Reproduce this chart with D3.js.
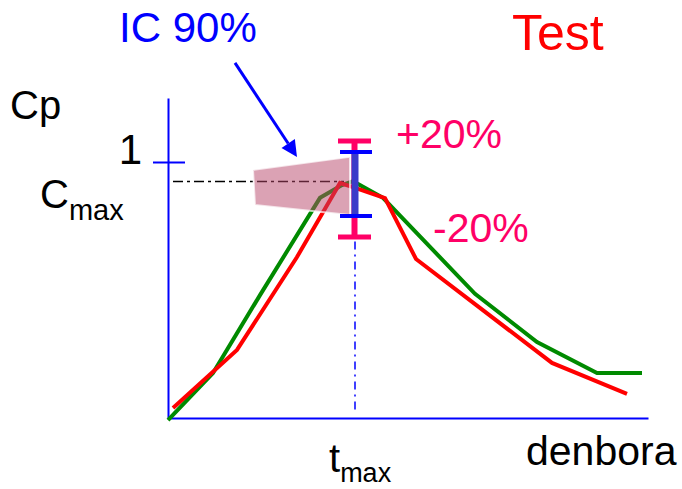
<!DOCTYPE html>
<html>
<head>
<meta charset="utf-8">
<script src="https://cdn.jsdelivr.net/npm/d3@7"></script>
<style>
  html, body { margin: 0; padding: 0; background: #fff; }
  svg { display: block; font-family: "Liberation Sans", Arial, Helvetica, sans-serif; }
</style>
</head>
<body>
<svg id="chart" width="682" height="489"></svg>
<script>
// ---- data ----
const refTime  = [0, 2.25, 4.6, 7.6, 8.7, 9.25, 10.75, 15.35, 18.45, 21.45, 23.7];
const refConc  = [-0.008, 0.176, 0.48, 0.86, 0.91, 0.925, 0.86, 0.485, 0.297, 0.176, 0.176];
const testTime = [0.25, 3.45, 6.45, 8.6, 9.25, 10.85, 12.4, 19.2, 22.95];
const testConc = [0.039, 0.266, 0.629, 0.918, 0.902, 0.859, 0.621, 0.215, 0.094];
const yTicks = [1];
const tMax = 9.35;
const cMax = 0.924;
const ciLow = 0.789, ciHigh = 1.039;      // IC 90%
const limLow = 0.707, limHigh = 1.082;    // -20% / +20%
const ciBandT = [4.25, 9.1];              // shaded IC band (time extent)
const ciBandTop = [0.969, 1.02];
const ciBandBottom = [0.832, 0.793];

const svg = d3.select("#chart");
const x = d3.scaleLinear().domain([0, 24]).range([168, 648]);
const y = d3.scaleLinear().domain([0, 1.25]).range([418, 98]);

const blue = "#0000ff", green = "#008a00", red = "#ff0000", pink = "#ff0066";

// axes
const yAxis = svg.append("g").attr("transform", `translate(${x(0)},0)`)
  .call(d3.axisLeft(y).tickValues(yTicks).tickSizeOuter(0).tickSizeInner(16).tickPadding(10).tickFormat(d3.format("d")));
yAxis.select(".domain").attr("stroke", blue).attr("stroke-width", 2);
yAxis.selectAll(".tick line").attr("stroke", blue).attr("stroke-width", 2).attr("x1", 17).attr("x2", -15);
yAxis.selectAll(".tick text").attr("fill", "#000").attr("font-size", 42)
  .attr("font-family", "Liberation Sans, Arial, sans-serif").attr("dy", "0.03em");

const xAxis = svg.append("g").attr("transform", `translate(0,${y(0)})`)
  .call(d3.axisBottom(x).tickValues([]).tickSizeOuter(0));
xAxis.select(".domain").attr("stroke", blue).attr("stroke-width", 2);

// Cmax / tmax reference lines
svg.append("line")
  .attr("x1", x(0.25)).attr("x2", x(8.8)).attr("y1", y(cMax)).attr("y2", y(cMax))
  .attr("stroke", "#000").attr("stroke-width", 1.5).attr("stroke-dasharray", "10 4 3 4");
svg.append("line")
  .attr("x1", x(tMax)).attr("x2", x(tMax)).attr("y1", y(cMax)).attr("y2", y(0.03))
  .attr("stroke", blue).attr("stroke-width", 1.5).attr("stroke-dasharray", "8 5 2 5");

// curves
const line = d3.line().x(d => x(d[0])).y(d => y(d[1]));
svg.append("path").datum(refTime.map((t, i) => [t, refConc[i]]))
  .attr("d", line).attr("fill", "none").attr("stroke", green).attr("stroke-width", 4);
svg.append("path").datum(testTime.map((t, i) => [t, testConc[i]]))
  .attr("d", line).attr("fill", "none").attr("stroke", red).attr("stroke-width", 4);

// shaded IC band
const band = [
  [ciBandT[0], ciBandTop[0]], [ciBandT[1], ciBandTop[1]],
  [ciBandT[1], ciBandBottom[1]], [ciBandT[0] + 0.1, ciBandBottom[0]]
];
svg.append("polygon")
  .attr("points", band.map(d => [x(d[0]), y(d[1])].join(",")).join(" "))
  .attr("fill", "#b8456a").attr("fill-opacity", 0.5)
  .attr("stroke", "#fff").attr("stroke-opacity", 0.7).attr("stroke-width", 2);

// +/-20% bar
const capW = 16;
svg.append("line").attr("x1", x(tMax) - 0.5).attr("x2", x(tMax) - 0.5)
  .attr("y1", y(limHigh)).attr("y2", y(limLow)).attr("stroke", pink).attr("stroke-width", 6);
[limHigh, limLow].forEach(v => {
  svg.append("line").attr("x1", x(tMax) - capW - 1).attr("x2", x(tMax) + capW)
    .attr("y1", y(v)).attr("y2", y(v)).attr("stroke", pink).attr("stroke-width", 5);
});
// IC 90% bar
svg.append("line").attr("x1", x(tMax)).attr("x2", x(tMax))
  .attr("y1", y(ciHigh)).attr("y2", y(ciLow)).attr("stroke", "#3b3bc9").attr("stroke-width", 7);
[ciHigh, ciLow].forEach(v => {
  svg.append("line").attr("x1", x(tMax) - capW + 1).attr("x2", x(tMax) + capW + 1)
    .attr("y1", y(v)).attr("y2", y(v)).attr("stroke", blue).attr("stroke-width", 4);
});

// arrow
const a0 = [x(3.35), y(1.387)], a1 = [x(6.45), y(1.02)];
const ang = Math.atan2(a1[1] - a0[1], a1[0] - a0[0]);
const hl = 16, hw = 8;
const base = [a1[0] - hl * Math.cos(ang), a1[1] - hl * Math.sin(ang)];
svg.append("line").attr("x1", a0[0]).attr("y1", a0[1]).attr("x2", base[0]).attr("y2", base[1])
  .attr("stroke", blue).attr("stroke-width", 3);
svg.append("polygon").attr("points", [
  a1,
  [base[0] + hw * Math.sin(ang), base[1] - hw * Math.cos(ang)],
  [base[0] - hw * Math.sin(ang), base[1] + hw * Math.cos(ang)]
].map(p => p.join(",")).join(" ")).attr("fill", blue);

// texts
function txt(s, xx, yy, size, color) {
  return svg.append("text").attr("x", xx).attr("y", yy).attr("font-size", size)
    .attr("fill", color).text(s);
}
txt("IC 90%", 119, 42, 42, blue);
txt("Test", 512, 50, 50, red);
txt("Cp", 10, 119, 40, "#000");
txt("+20%", 396, 148, 41, pink);
txt("-20%", 433, 242, 41, pink);
txt("denbora", 526, 465, 41, "#000");

const cm = svg.append("text").attr("x", 40).attr("y", 208).attr("font-size", 40).attr("fill", "#000");
cm.append("tspan").text("C");
cm.append("tspan").attr("font-size", 29).attr("dy", 12).text("max");

const tm = svg.append("text").attr("x", 329).attr("y", 472).attr("font-size", 40).attr("fill", "#000");
tm.append("tspan").text("t");
tm.append("tspan").attr("font-size", 27).attr("dy", 10).text("max");
</script>
</body>
</html>
